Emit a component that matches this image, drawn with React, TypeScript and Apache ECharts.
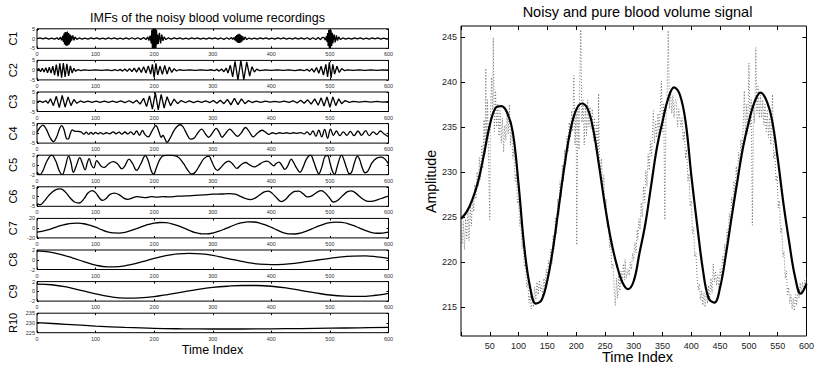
import React, { useEffect, useRef } from "react";
import * as echarts from "echarts";

const FONT = "Liberation Sans, Arial, Helvetica, sans-serif";

// ---- Left panel: IMFs, as [timeIndex, value] pairs ----
const imfLabels = ["C1", "C2", "C3", "C4", "C5", "C6", "C7", "C8", "C9", "R10"];
const imfRanges = [
  [-5, 5, 5], [-5, 5, 5], [-5, 5, 5], [-5, 5, 5], [-2, 2, 2],
  [-5, 5, 5], [-20, 20, 20], [-2, 2, 2], [-2, 2, 2], [225, 235, 5],
];
const timeTicks = [0, 100, 200, 300, 400, 500, 600];

const C1 = [[0,0],[5,0.3],[10,-0.2],[15,0.3],[20,-0.3],[25,0.2],[30,-0.3],[34,0.4],[37,-0.5],[40,0.7],[42,-0.9],[44,1.4],[45,-1.8],[46,2.6],[47,-3],[48,3.3],[49,-3.6],[50,3.2],[51,-3.8],[52,3.6],[53,-3.4],[54,2.8],[55,-3],[56,2.2],[57,-2],[58,1.5],[59,-1],[61,1.6],[63,-0.9],[65,0.8],[68,-0.4],[72,0.3],[77,-0.3],[82,0.2],[87,-0.3],[92,0.3],[97,-0.2],[102,0.3],[107,-0.3],[112,0.2],[117,-0.3],[122,0.3],[127,-0.2],[132,0.3],[137,-0.3],[142,0.2],[147,-0.3],[152,0.3],[157,-0.3],[162,0.4],[167,-0.3],[172,0.4],[177,-0.4],[182,0.5],[186,-0.5],[189,0.8],[191,-1],[193,1.5],[195,-2.5],[196,4.5],[197,-5],[198,5],[199,-5],[200,5],[201,-5],[202,5],[203,-4.8],[204,4.5],[205,-3],[206,2],[207,-2.8],[209,3],[211,-2.5],[213,2],[215,-1.2],[217,0.8],[220,-0.5],[224,0.3],[229,-0.3],[234,0.3],[239,-0.2],[244,0.3],[249,-0.3],[254,0.2],[259,-0.3],[264,0.3],[269,-0.2],[274,0.3],[279,-0.3],[284,0.2],[289,-0.3],[294,0.3],[299,-0.2],[304,0.3],[309,-0.3],[314,0.3],[319,-0.4],[324,0.4],[328,-0.4],[332,0.5],[334,-0.5],[336,0.5],[338,-0.8],[339,1.2],[340,-1.5],[341,1.8],[342,-2],[343,2.2],[344,-2.3],[345,2.4],[346,-2.2],[347,2],[348,-2],[349,1.6],[350,-1.5],[351,1.2],[353,-0.8],[355,0.8],[358,-0.5],[362,0.3],[366,-0.3],[371,0.2],[376,-0.3],[381,0.3],[386,-0.2],[391,0.3],[396,-0.3],[401,0.2],[406,-0.3],[411,0.3],[416,-0.2],[421,0.3],[426,-0.3],[431,0.2],[436,-0.3],[441,0.3],[446,-0.3],[451,0.3],[456,-0.3],[461,0.4],[466,-0.4],[471,0.4],[476,-0.5],[480,0.5],[484,-0.6],[487,0.6],[490,0.5],[492,-0.8],[494,1.2],[495,-1.8],[496,2.8],[497,-3.8],[498,4.5],[499,-4.8],[500,4.8],[501,-4.6],[502,4.2],[503,-3.8],[504,3],[505,-2.5],[507,2.2],[509,-2],[511,1.6],[513,-1],[515,0.8],[518,-0.5],[522,0.3],[527,-0.3],[532,0.2],[537,-0.3],[542,0.3],[547,-0.2],[552,0.3],[557,-0.3],[562,0.2],[567,-0.3],[572,0.3],[577,-0.2],[582,0.3],[587,-0.3],[592,0.2],[597,-0.3],[600,0]];

const C2 = [[0,0],[3,0.8],[6,-0.8],[9,1],[12,-1],[15,1.2],[18,-1.3],[21,1.5],[24,-1.5],[27,2],[30,-2.5],[33,2.8],[36,-3.2],[39,3.5],[42,-3.8],[45,3.6],[48,-3.5],[51,3.2],[54,-3],[57,2.2],[60,-1.5],[63,1],[66,-0.6],[70,0.3],[75,-0.2],[80,0.1],[90,-0.1],[100,0.1],[110,-0.1],[120,0.1],[128,-0.2],[133,0.3],[138,-0.3],[142,0.4],[146,-0.5],[150,0.6],[154,-0.6],[158,0.8],[162,-0.8],[166,1],[170,-1],[174,1.3],[178,-1.2],[182,1.8],[186,-1.5],[190,2.2],[194,-2],[197,3],[200,-3.8],[203,3.5],[206,-2.5],[210,2],[214,-2.2],[218,2.4],[222,-2],[226,1.6],[230,-1.2],[234,0.8],[238,-0.4],[243,0.2],[250,-0.1],[260,0.1],[270,-0.1],[280,0.1],[290,-0.1],[298,0.2],[303,-0.3],[307,0.4],[311,-0.5],[315,0.6],[319,-0.8],[323,1],[326,-1.5],[330,2.5],[334,-3.5],[338,4.5],[343,-5],[348,5],[353,-5],[358,4.2],[363,-3],[367,1.8],[371,-1],[375,0.5],[380,-0.2],[390,0.1],[400,-0.1],[410,0.1],[420,-0.1],[430,0.1],[440,-0.2],[450,0.2],[456,-0.3],[461,0.4],[465,-0.6],[469,0.8],[473,-1],[477,1.3],[481,-1.6],[485,2],[489,-2.5],[493,3],[496,-3.5],[499,4],[502,-4],[505,3],[508,-2],[512,2],[516,-1.2],[520,0.8],[525,-0.3],[530,0.1],[540,-0.1],[550,0.1],[560,-0.1],[570,0.1],[580,-0.1],[590,0.1],[600,0]];

const C3 = [[0,0],[5,0.3],[10,-0.3],[15,0.5],[19,-0.8],[23,1.5],[28,-2],[33,2.8],[38,-3],[43,3.2],[48,-2.8],[53,2.5],[58,-2],[63,1.2],[68,-0.8],[74,0.4],[80,-0.3],[87,0.3],[94,-0.3],[101,0.3],[108,-0.3],[115,0.3],[122,-0.3],[129,0.3],[136,-0.3],[143,0.4],[150,-0.4],[157,0.5],[164,-0.6],[170,0.8],[176,-1.2],[182,1.8],[187,-2.5],[192,3],[197,-3.8],[202,4.5],[207,-4.2],[212,3.8],[217,-3.2],[222,2.6],[228,-2],[234,1.4],[240,-1],[246,0.6],[253,-0.4],[260,0.4],[267,-0.4],[274,0.3],[281,-0.3],[288,0.4],[295,-0.4],[301,0.6],[307,-0.8],[313,0.8],[319,-1],[325,1.2],[331,-1.6],[337,1.8],[343,-1.5],[349,1.5],[355,-1],[361,0.6],[367,-0.4],[374,0.3],[382,-0.3],[390,0.3],[398,-0.2],[406,0.2],[414,-0.2],[422,0.3],[430,-0.3],[437,0.5],[444,-0.6],[450,0.8],[456,-0.8],[462,1],[468,-1.2],[474,1.5],[480,-1.8],[485,2],[490,-2.2],[495,2.5],[500,-2.8],[505,2.5],[510,-2],[515,1.5],[520,-1],[526,0.6],[533,-0.3],[540,0.2],[550,-0.2],[560,0.2],[570,-0.2],[580,0.2],[590,-0.2],[600,0]];

const C4 = [[0,0.5],[4,2.5],[10,4.2],[16,2],[22,-2],[28,-4.2],[34,-1.5],[38,2],[42,4],[46,2],[50,-2.5],[53,-3],[57,0],[60,1.8],[64,1.2],[70,1.0],[75,0.8],[80,-0.4],[84,0.6],[88,-0.5],[92,0.5],[96,-0.4],[100,0.5],[104,-0.3],[108,0.4],[113,-0.4],[118,0.3],[124,-0.2],[130,0.8],[135,-0.2],[140,0.6],[145,-0.4],[150,0.7],[155,-0.3],[160,0.8],[165,-0.6],[170,1.2],[175,-1],[180,1.5],[184,-0.5],[190,-1.8],[196,1],[203,4.0],[208,1],[212,-2],[215,-1],[218,-2.5],[222,-4.6],[228,-2],[234,1.5],[240,3.8],[245,4.4],[250,3],[256,-0.5],[262,-3],[268,-2.5],[274,0],[281,2.2],[287,0],[293,-2],[299,0],[306,2.6],[311,0.5],[316,-2.0],[322,0],[329,2.2],[335,0.5],[342,-1.5],[348,0],[356,3.0],[362,1],[369,-1.8],[376,0],[384,1.6],[390,0.6],[396,-0.5],[402,0.3],[408,-0.2],[414,0.3],[420,0],[426,0.3],[432,-0.1],[438,0.3],[444,0],[450,0.4],[456,-0.3],[461,0.8],[466,-0.8],[471,1.2],[476,-1.5],[481,1.6],[486,-1.8],[491,2.0],[496,-2.5],[501,2.2],[506,-1],[511,1.2],[517,-1.2],[523,0.8],[529,-1],[535,1],[541,-1.2],[548,1.2],[554,-1],[561,1.4],[567,-1.2],[574,0.8],[580,-0.6],[586,1.2],[592,-0.2],[597,-1.2],[600,-1.6]];

const C5 = [[0,-1.5],[5,-2],[10,-1.2],[17,0.8],[25,2],[32,0.8],[38,-1.2],[43,-2],[48,-0.5],[54,1.8],[58,0.5],[62,-1.5],[67,-0.2],[73,1.5],[77,0.5],[82,-1],[86,0.5],[89,1.3],[93,0],[97,-0.6],[102,0.9],[106,0.3],[110,-0.3],[115,-0.5],[122,0.2],[130,0.7],[137,0.3],[145,-0.8],[150,-0.2],[157,1.2],[163,0.3],[170,-1.1],[177,0.2],[185,1.9],[190,0.8],[195,-1.2],[199,-1.9],[204,-0.5],[210,1.2],[216,1.9],[225,2],[235,1.9],[242,1.5],[250,0.3],[257,-1],[264,-1.9],[270,-1.5],[278,0],[285,1.3],[293,1.8],[298,0.8],[303,-0.5],[308,-1.1],[314,-0.5],[320,0.3],[327,0.8],[334,0.2],[341,-0.7],[348,0],[356,0.5],[363,0],[371,-0.4],[378,0],[386,0.6],[393,0.8],[399,0.3],[404,-0.2],[408,0.3],[413,0.6],[418,-0.1],[423,-0.9],[428,-0.2],[434,1.2],[438,0.5],[443,-0.6],[449,-1.5],[454,-0.5],[460,1.2],[467,2],[472,0.8],[477,-0.9],[481,-1.8],[486,-0.5],[492,1.8],[496,1.9],[500,0.5],[504,-1.2],[508,-1.9],[512,-0.5],[517,1.5],[520,2],[524,1],[529,-0.8],[533,-1.8],[537,-1.5],[542,0.5],[547,1.8],[551,1],[555,-0.5],[560,-1.6],[565,-1.2],[572,0.5],[580,1.4],[588,1.6],[594,1.2],[600,0.2]];

const C6 = [[0,-3.8],[5,-4.2],[12,-2.5],[20,0.5],[30,3.2],[40,3.9],[48,2.5],[56,-0.5],[64,-2.8],[72,-3.3],[80,-1.2],[87,1.8],[94,3],[100,2],[106,-0.5],[112,-2],[118,-1],[124,1],[132,1.8],[140,1],[148,-0.8],[155,-1.4],[162,-0.8],[170,0],[178,-0.3],[186,-0.5],[195,0],[205,-0.3],[215,0],[225,-0.2],[240,0.2],[255,0.3],[270,0.6],[285,0.9],[300,1.2],[315,1.3],[328,1.5],[338,1.2],[348,0],[356,-1],[364,-1.6],[372,-0.8],[380,0.8],[388,2.4],[395,2.8],[402,1.5],[410,-1],[417,-2.6],[424,-1.5],[432,1],[440,2.6],[447,2.8],[454,1.5],[462,-0.2],[470,0.5],[478,2.2],[485,3],[492,1.8],[500,-1],[506,-2.8],[513,-2],[522,0.5],[530,2.5],[537,2.9],[545,1.5],[555,-1],[565,-2.5],[574,-2.3],[583,-1.5],[592,-0.5],[600,0.2]];

const C7 = [[0,-8],[10,-6],[20,-3],[30,1],[40,5],[50,8],[60,9.8],[70,10.2],[80,9],[90,6],[100,2],[110,-3],[120,-7.5],[130,-9.8],[140,-10],[150,-8.5],[160,-5],[170,-1],[180,3.5],[190,7.5],[200,10.5],[210,11.6],[220,11.2],[230,9],[240,5],[250,0.5],[260,-4.5],[270,-9],[280,-11.5],[290,-11.8],[300,-10],[310,-6.5],[320,-2],[330,3],[340,8],[350,11.2],[360,12.8],[370,12.6],[380,10.5],[390,6.5],[400,1.5],[410,-4],[420,-9],[430,-11.8],[440,-12],[450,-10],[460,-6],[470,-1],[480,4],[490,8.5],[500,11.2],[510,12.2],[520,11.8],[530,9.5],[540,5.5],[550,0.5],[560,-4.5],[570,-8.5],[580,-10.5],[590,-10],[600,-8]];

const C8 = [[0,1.8],[20,1.6],[40,1.1],[60,0.4],[80,-0.4],[100,-1.1],[120,-1.45],[140,-1.4],[160,-1.0],[180,-0.4],[200,0.3],[220,0.85],[240,1.2],[260,1.3],[280,1.2],[300,0.9],[320,0.4],[340,-0.1],[360,-0.6],[380,-0.9],[400,-1.0],[420,-0.95],[440,-0.75],[460,-0.4],[480,-0.05],[500,0.3],[520,0.6],[540,0.75],[560,0.8],[580,0.6],[600,0.3]];

const C9 = [[0,1.5],[25,1.35],[50,0.9],[75,0.2],[100,-0.5],[125,-1.1],[150,-1.4],[175,-1.35],[200,-1.1],[225,-0.6],[250,-0.1],[275,0.4],[300,0.8],[325,1.05],[350,1.2],[375,1.2],[400,1.05],[425,0.7],[450,0.2],[475,-0.3],[500,-0.75],[525,-1.0],[550,-1.05],[575,-0.85],[600,-0.4]];

const R10 = [[0,230.2],[50,229.3],[100,228.4],[150,227.7],[200,227.2],[250,227],[300,226.9],[350,226.9],[400,227],[450,227.1],[500,227.3],[550,227.5],[600,227.7]];

const imfs = [C1, C2, C3, C4, C5, C6, C7, C8, C9, R10];

// ---- Right panel ----
const ampTicks = [215, 220, 225, 230, 235, 240, 245];
const pureSignal = [[0,224.8],[10,225.6],[20,227.0],[30,229.0],[40,232.0],[50,235.2],[60,237.1],[70,237.3],[80,236.6],[90,234.4],[100,228.6],[110,221.6],[120,217.2],[130,215.4],[140,215.8],[150,218.0],[160,221.6],[170,226.2],[180,230.8],[190,234.6],[200,236.9],[210,237.6],[220,237.0],[230,234.6],[240,230.6],[250,226.3],[260,222.6],[270,219.8],[280,217.8],[290,217.0],[300,217.9],[310,221.0],[320,224.2],[330,228.4],[340,232.6],[350,235.6],[360,238.2],[370,239.4],[380,238.6],[390,235.6],[400,229.6],[410,224.2],[420,219.2],[430,216.0],[440,215.5],[450,217.2],[460,220.8],[470,225.0],[480,229.0],[490,232.8],[500,235.6],[510,237.8],[520,238.8],[530,238.0],[540,235.8],[550,231.5],[560,226.5],[570,222.2],[580,218.4],[590,216.5],[600,217.6]];

const noisySignal = [[0,223.5],[2,222.0],[4,224.5],[6,221.4],[8,224.8],[10,222.6],[12,225.8],[14,222.4],[16,226.4],[18,224.0],[20,227.2],[22,225.6],[24,228.6],[26,227.0],[28,230.0],[30,228.4],[32,231.6],[34,229.2],[36,233.0],[38,230.4],[40,235.8],[42,232.0],[43,241.5],[44,233.0],[46,238.0],[48,231.0],[50,224.7],[51,236.0],[53,240.5],[55,236.0],[56,244.9],[58,234.5],[60,239.0],[62,235.0],[64,237.5],[66,234.0],[68,236.8],[70,233.2],[72,236.0],[74,232.2],[76,235.2],[78,233.5],[80,236.5],[82,234.2],[84,237.5],[86,233.0],[88,235.2],[90,231.5],[92,232.6],[94,229.0],[96,229.8],[98,226.5],[100,227.0],[102,224.0],[104,224.6],[106,221.5],[108,222.2],[110,219.5],[112,219.8],[114,217.2],[116,217.8],[118,215.5],[120,216.3],[122,214.8],[124,216.0],[126,215.0],[128,217.2],[130,215.8],[132,217.8],[134,216.4],[136,218.0],[138,216.8],[140,217.4],[142,216.2],[144,218.2],[146,217.0],[148,219.2],[150,218.0],[152,220.2],[154,219.0],[156,221.4],[158,219.8],[160,223.0],[162,221.5],[164,225.0],[166,223.2],[168,227.0],[170,225.2],[172,229.0],[174,227.2],[176,230.8],[178,229.0],[180,232.5],[182,230.8],[184,234.0],[186,232.2],[188,235.5],[190,233.8],[192,236.8],[194,234.5],[196,240.7],[198,233.0],[200,236.5],[201,221.9],[203,237.0],[205,232.5],[206,239.0],[208,245.8],[210,235.5],[212,238.0],[214,233.0],[216,237.5],[218,234.0],[220,238.0],[222,235.0],[224,237.2],[226,234.8],[228,237.0],[230,233.5],[232,236.0],[234,232.5],[236,235.5],[238,231.0],[239,238.7],[240,232.5],[242,229.8],[244,231.5],[246,228.0],[248,229.6],[250,226.0],[252,227.0],[254,223.8],[256,224.6],[258,221.6],[260,222.2],[262,219.4],[264,219.8],[266,217.0],[268,215.2],[270,218.2],[272,216.0],[274,218.5],[276,216.8],[278,219.0],[280,217.5],[282,219.8],[284,218.0],[285,220.3],[287,218.2],[290,219.2],[292,218.5],[294,220.0],[296,219.2],[298,221.0],[300,220.2],[302,222.2],[304,221.0],[306,223.6],[307,222.5],[309,224.8],[311,223.6],[313,226.6],[315,225.0],[317,228.4],[319,226.6],[321,230.2],[323,228.4],[325,232.0],[327,230.2],[329,233.4],[331,231.8],[334,236.8],[336,233.2],[338,235.6],[340,233.8],[342,236.5],[344,234.2],[346,237.0],[348,240.1],[350,234.5],[352,237.5],[354,224.7],[356,236.0],[358,239.0],[360,245.7],[362,237.0],[364,239.0],[366,236.5],[368,238.5],[370,236.0],[372,238.0],[374,237.9],[376,235.0],[378,237.0],[380,236.0],[382,235.0],[384,236.0],[386,233.5],[388,234.5],[390,231.5],[392,232.5],[394,229.0],[396,229.8],[398,226.2],[400,226.8],[402,223.2],[404,223.8],[406,220.6],[408,221.0],[410,218.2],[412,216.9],[414,217.6],[416,215.8],[418,216.8],[420,215.2],[422,216.6],[424,215.0],[426,216.8],[428,215.4],[430,217.4],[432,215.8],[434,218.2],[436,216.6],[438,219.8],[440,217.8],[442,219.0],[444,217.4],[446,218.6],[448,216.9],[450,219.2],[452,218.4],[454,220.6],[456,219.6],[458,222.0],[460,221.0],[462,223.6],[464,222.5],[466,225.4],[468,224.2],[470,227.2],[472,226.0],[474,229.0],[476,227.6],[478,230.6],[480,229.2],[482,232.2],[484,230.6],[486,233.6],[488,232.0],[490,235.0],[492,239.0],[494,234.0],[496,237.5],[498,234.2],[500,242.1],[502,235.0],[504,238.0],[506,224.1],[508,237.5],[510,235.5],[512,243.8],[514,236.5],[516,239.5],[518,236.0],[520,238.5],[522,236.0],[524,238.0],[526,235.2],[528,237.5],[530,234.5],[532,236.8],[534,233.8],[536,236.0],[538,233.0],[541,238.6],[543,231.5],[545,232.2],[547,229.0],[549,229.6],[551,226.0],[553,226.8],[555,223.2],[557,223.8],[559,220.6],[561,221.2],[563,218.2],[565,219.0],[567,216.4],[569,217.2],[571,215.4],[573,216.4],[575,214.8],[577,216.0],[579,214.6],[581,216.4],[583,215.2],[585,217.2],[587,216.0],[589,217.7],[591,216.6],[593,217.8],[595,216.8],[597,218.0],[599,217.4],[600,218.2]];

function buildOption() {
  const grids: any[] = [];
  const xAxes: any[] = [];
  const yAxes: any[] = [];
  const series: any[] = [];
  const graphics: any[] = [];
  const GL = 37, GW = 351.5, GT = 28.8, PITCH = 31.6, GH = 19.5;

  imfs.forEach((d, i) => {
    const top = GT + PITCH * i;
    grids.push({ left: GL, width: GW, top, height: GH, show: true, borderColor: "#000", borderWidth: 1 });
    const [ymin, ymax, yint] = imfRanges[i];
    const xBase = {
      type: "value", gridIndex: i, min: timeTicks[0], max: timeTicks[timeTicks.length - 1], interval: 100,
      axisLine: { show: false, onZero: false }, splitLine: { show: false },
      axisTick: { inside: true, length: 2, lineStyle: { color: "#000", width: 1 } },
    };
    xAxes.push({ ...xBase, position: "bottom",
      axisLabel: { fontSize: 5.5, margin: 3, color: "#333", fontFamily: FONT } });
    xAxes.push({ ...xBase, position: "top", axisLabel: { show: false } });
    const yBase = {
      type: "value", gridIndex: i, min: ymin, max: ymax, interval: yint,
      axisLine: { show: false, onZero: false }, splitLine: { show: false },
      axisTick: { inside: true, length: 2, lineStyle: { color: "#000", width: 1 } },
    };
    yAxes.push({ ...yBase, position: "left",
      axisLabel: { fontSize: 5.5, margin: 2, color: "#333", fontFamily: FONT } });
    yAxes.push({ ...yBase, position: "right", axisLabel: { show: false } });
    series.push({
      type: "line", xAxisIndex: 2 * i, yAxisIndex: 2 * i, data: d, showSymbol: false, symbol: "none",
      smooth: i < 3 ? false : 0.4, lineStyle: { color: "#000", width: 1.3 }, silent: true,
    });
    graphics.push({
      type: "text", x: 13, y: top + GH / 2, rotation: Math.PI / 2,
      style: { text: imfLabels[i], fontSize: 11, fontFamily: FONT, fill: "#000", textAlign: "center", textVerticalAlign: "middle" },
    });
  });

  // Right panel
  const ri = imfs.length;
  grids.push({ left: 461, top: 26, width: 348, height: 310, show: true, borderColor: "#000", borderWidth: 1 });
  const rx = {
    type: "value", gridIndex: ri, min: 0, max: 600, interval: 50,
    axisLine: { show: false, onZero: false }, splitLine: { show: false },
    axisTick: { inside: true, length: 4, lineStyle: { color: "#000" } },
  };
  xAxes.push({ ...rx, position: "bottom",
    axisLabel: { fontSize: 9, margin: 5, color: "#222", fontFamily: FONT, formatter: (v: number) => (v === 0 ? "" : String(v)) } });
  xAxes.push({ ...rx, position: "top", axisLabel: { show: false } });
  const ry = {
    type: "value", gridIndex: ri, min: 211.8, max: 246.2,
    axisLine: { show: false, onZero: false }, splitLine: { show: false },
    axisTick: { inside: true, length: 4, lineStyle: { color: "#000" }, customValues: ampTicks },
  };
  yAxes.push({ ...ry, position: "left",
    axisLabel: { fontSize: 9, margin: 4, color: "#222", fontFamily: FONT, customValues: ampTicks } });
  yAxes.push({ ...ry, position: "right", axisLabel: { show: false } });
  series.push({
    type: "line", xAxisIndex: 2 * ri, yAxisIndex: 2 * ri, data: noisySignal, symbol: "none",
    lineStyle: { color: "#666", width: 0.9, type: [1, 2] }, silent: true,
  });
  series.push({
    type: "line", xAxisIndex: 2 * ri, yAxisIndex: 2 * ri, data: pureSignal, symbol: "none", smooth: 0.4,
    lineStyle: { color: "#000", width: 2.2 }, silent: true,
  });

  const txt = (x: number, y: number, text: string, size: number, rot = 0) => ({
    type: "text", x, y, rotation: rot,
    style: { text, fontSize: size, fontFamily: FONT, fill: "#000", textAlign: "center", textVerticalAlign: "middle" },
  });
  graphics.push(txt(207.5, 18.3, "IMFs of the noisy blood volume recordings", 12.5));
  graphics.push(txt(637.5, 12, "Noisy and pure blood volume signal", 14.5));
  graphics.push(txt(212.5, 350, "Time Index", 12.5));
  graphics.push(txt(637.5, 357, "Time Index", 14.5));
  graphics.push(txt(431, 181.5, "Amplitude", 14.2, Math.PI / 2));

  return {
    animation: false,
    backgroundColor: "#fff",
    textStyle: { fontFamily: FONT },
    grid: grids, xAxis: xAxes, yAxis: yAxes, series, graphic: graphics,
  };
}

export default function App() {
  const ref = useRef<HTMLDivElement>(null);
  useEffect(() => {
    if (!ref.current) return;
    const chart = echarts.init(ref.current, undefined, { renderer: "svg" });
    chart.setOption(buildOption() as any);
    return () => chart.dispose();
  }, []);
  return <div ref={ref} style={{ position: "fixed", left: 0, top: 0, width: 817, height: 365 }} />;
}
